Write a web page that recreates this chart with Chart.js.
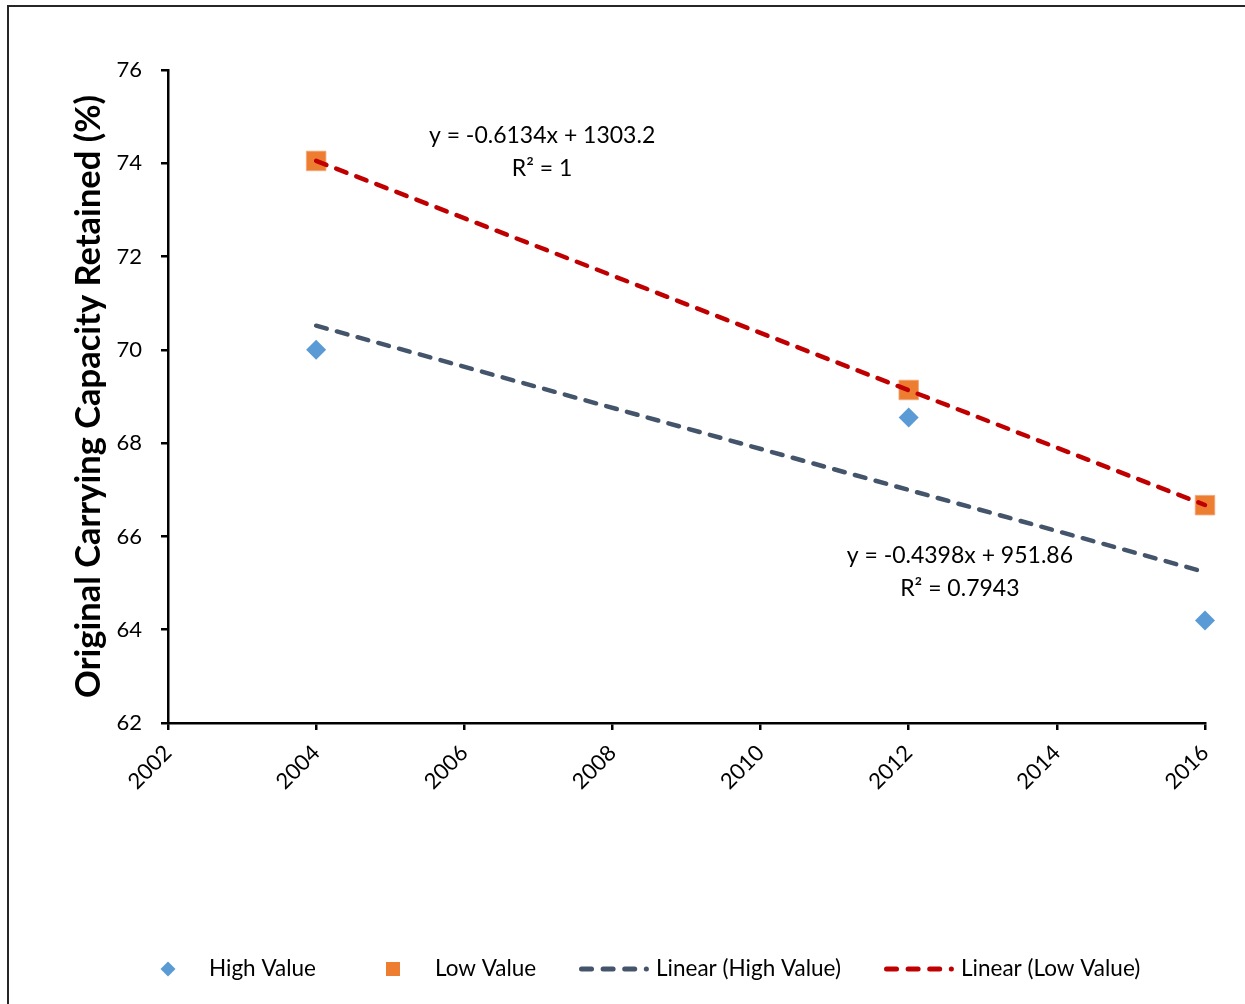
<!DOCTYPE html>
<html>
<head>
<meta charset="utf-8">
<script src="https://cdn.jsdelivr.net/npm/chart.js@4.4.1/dist/chart.umd.min.js"></script>
<style>
  html, body { margin: 0; padding: 0; background: #ffffff; }
  canvas { display: block; }
</style>
</head>
<body>
<canvas id="chart" width="1245" height="1004"></canvas>
<script>
// Survey years and retained capacity readings
const years = [2004, 2012, 2016];
const highValue = [70.0, 68.55, 64.2];
const lowValue = [74.05, 69.14, 66.67];

// Axis ranges / tick steps
const xRange = [2002, 2016];
const xStep = 2;
const yRange = [62, 76];
const yStep = 2;

// Labels
const seriesNames = ['High Value', 'Low Value'];
const trendNames = ['Linear (High Value)', 'Linear (Low Value)'];
const equationText = ['y = -0.4398x + 951.86', 'y = -0.6134x + 1303.2'];
const rSquaredText = ['R\u00B2 = 0.7943', 'R\u00B2 = 1'];
const yTitle = 'Original Carrying Capacity Retained (%)';

const COLORS = {
  high: '#5B9BD5',
  low: '#ED7D31',
  highTrend: '#44546A',
  lowTrend: '#C00000',
  text: '#000000'
};
const FONT = 'Lato, "Open Sans", sans-serif';

// Ordinary least-squares line through the points
function linearFit(xs, ys) {
  const n = xs.length;
  const mx = xs.reduce((a, b) => a + b, 0) / n;
  const my = ys.reduce((a, b) => a + b, 0) / n;
  let sxy = 0, sxx = 0;
  for (let i = 0; i < n; i++) {
    sxy += (xs[i] - mx) * (ys[i] - my);
    sxx += (xs[i] - mx) * (xs[i] - mx);
  }
  const slope = sxy / sxx;
  return { slope, intercept: my - slope * mx };
}

function trendPoints(xs, ys) {
  const f = linearFit(xs, ys);
  const x0 = xs[0], x1 = xs[xs.length - 1];
  return [{ x: x0, y: f.slope * x0 + f.intercept }, { x: x1, y: f.slope * x1 + f.intercept }];
}

const toPoints = (xs, ys) => xs.map((x, i) => ({ x, y: ys[i] }));

const DASH = [11, 10.5];

// White page with a frame around it
const framePlugin = {
  id: 'frame',
  beforeDraw(chart) {
    const ctx = chart.ctx;
    ctx.save();
    ctx.fillStyle = '#ffffff';
    ctx.fillRect(0, 0, chart.width, chart.height);
    ctx.strokeStyle = '#262626';
    ctx.lineWidth = 2;
    ctx.strokeRect(8, 6, chart.width + 20, chart.height + 20);
    ctx.restore();
  }
};

// Trendline equations, placed in data coordinates
const equationPlugin = {
  id: 'equations',
  afterDatasetsDraw(chart) {
    const { ctx, scales } = chart;
    const anchors = [{ x: 2012.69, y: 65.58 }, { x: 2007.05, y: 74.59 }];
    ctx.save();
    ctx.font = '23px ' + FONT;
    ctx.fillStyle = COLORS.text;
    ctx.textAlign = 'center';
    ctx.textBaseline = 'middle';
    anchors.forEach((a, i) => {
      const px = scales.x.getPixelForValue(a.x);
      const py = scales.y.getPixelForValue(a.y);
      ctx.fillText(equationText[i], px, py);
      ctx.fillText(rSquaredText[i], px, py + 33);
    });
    ctx.restore();
  }
};

// Legend row along the bottom
const legendPlugin = {
  id: 'bottomLegend',
  afterDraw(chart) {
    const ctx = chart.ctx;
    const cy = 969;
    ctx.save();
    ctx.font = '22.5px ' + FONT;
    ctx.fillStyle = COLORS.text;
    ctx.textAlign = 'left';
    ctx.textBaseline = 'middle';

    // diamond
    ctx.fillStyle = COLORS.high;
    ctx.beginPath();
    ctx.moveTo(168, cy - 7.5); ctx.lineTo(175.5, cy); ctx.lineTo(168, cy + 7.5); ctx.lineTo(160.5, cy);
    ctx.closePath(); ctx.fill();
    ctx.fillStyle = COLORS.text;
    ctx.fillText(seriesNames[0], 209, cy);

    // square
    ctx.fillStyle = COLORS.low;
    ctx.fillRect(386, cy - 7, 14, 14);
    ctx.fillStyle = COLORS.text;
    ctx.fillText(seriesNames[1], 435, cy);

    // dashed line samples: three dashes and a dot
    const drawSample = (x0, color) => {
      ctx.strokeStyle = color;
      ctx.lineWidth = 5;
      ctx.lineCap = 'round';
      for (let k = 0; k < 3; k++) {
        ctx.beginPath();
        ctx.moveTo(x0 + 2.5 + k * 21.6, cy);
        ctx.lineTo(x0 + 12.5 + k * 21.6, cy);
        ctx.stroke();
      }
      ctx.beginPath();
      ctx.moveTo(x0 + 2.5 + 3 * 21.6, cy);
      ctx.lineTo(x0 + 2.6 + 3 * 21.6, cy);
      ctx.stroke();
    };
    drawSample(579, COLORS.highTrend);
    ctx.fillStyle = COLORS.text;
    ctx.fillText(trendNames[0], 656, cy);
    drawSample(884, COLORS.lowTrend);
    ctx.fillStyle = COLORS.text;
    ctx.fillText(trendNames[1], 961, cy);
    ctx.restore();
  }
};

new Chart(document.getElementById('chart'), {
  type: 'scatter',
  data: {
    datasets: [
      {
        label: trendNames[0],
        type: 'line',
        data: trendPoints(years, highValue),
        borderColor: COLORS.highTrend,
        borderWidth: 4.5,
        borderDash: DASH,
        borderCapStyle: 'round',
        pointRadius: 0,
        fill: false,
        clip: false,
        order: 1
      },
      {
        label: trendNames[1],
        type: 'line',
        data: trendPoints(years, lowValue),
        borderColor: COLORS.lowTrend,
        borderWidth: 4.5,
        borderDash: DASH,
        borderCapStyle: 'round',
        pointRadius: 0,
        fill: false,
        clip: false,
        order: 1
      },
      {
        label: seriesNames[0],
        data: toPoints(years, highValue),
        pointStyle: 'rectRot',
        pointRadius: 10,
        backgroundColor: COLORS.high,
        borderColor: COLORS.high,
        borderWidth: 0,
        clip: false,
        order: 2
      },
      {
        label: seriesNames[1],
        data: toPoints(years, lowValue),
        pointStyle: 'rect',
        pointRadius: 13.8,
        backgroundColor: COLORS.low,
        borderColor: '#F4A678',
        borderWidth: 0.8,
        clip: false,
        order: 2
      }
    ]
  },
  options: {
    responsive: false,
    animation: false,
    devicePixelRatio: 1,
    layout: { padding: { left: 0, top: 70, right: 40, bottom: 0 } },
    plugins: {
      legend: { display: false },
      tooltip: { enabled: false }
    },
    scales: {
      x: {
        type: 'linear',
        min: xRange[0],
        max: xRange[1],
        afterFit(scale) { scale.height = 281; },
        ticks: {
          stepSize: xStep,
          minRotation: 45,
          maxRotation: 45,
          padding: 10,
          color: COLORS.text,
          font: { family: FONT, size: 22 },
          callback: v => String(v)
        },
        grid: { drawOnChartArea: false, drawTicks: true, tickLength: 7, color: '#000', lineWidth: 2.5 },
        border: { display: true, color: '#000', width: 2.5 }
      },
      y: {
        type: 'linear',
        min: yRange[0],
        max: yRange[1],
        afterFit(scale) { scale.width = 168; },
        ticks: {
          stepSize: yStep,
          padding: 19,
          color: COLORS.text,
          font: { family: FONT, size: 22 },
          callback: v => String(v)
        },
        grid: { drawOnChartArea: false, drawTicks: true, tickLength: 7, color: '#000', lineWidth: 2.5 },
        border: { display: true, color: '#000', width: 2.5 },
        title: {
          display: true,
          text: yTitle,
          color: COLORS.text,
          font: { family: FONT, size: 34.5, weight: 'bold' },
          padding: { top: 68, bottom: 0 }
        }
      }
    }
  },
  plugins: [framePlugin, equationPlugin, legendPlugin]
});
</script>
</body>
</html>
